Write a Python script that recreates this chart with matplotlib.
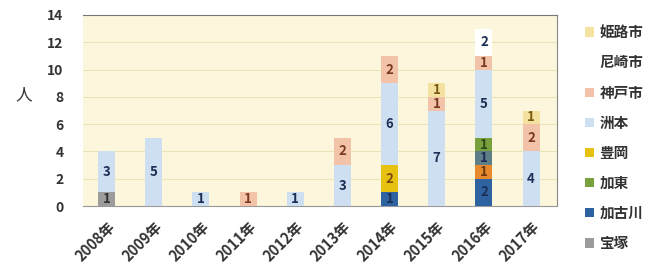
import numpy as np
import matplotlib
matplotlib.use("Agg")
import matplotlib.pyplot as plt
from matplotlib.patches import Patch

plt.rcParams['font.family'] = ['Noto Sans CJK JP', 'DejaVu Sans']

years = ["2008年", "2009年", "2010年", "2011年", "2012年",
         "2013年", "2014年", "2015年", "2016年", "2017年"]

# series, bottom to top of each stack
takarazuka = [1, 0, 0, 0, 0, 0, 0, 0, 0, 0]   # 宝塚
kakogawa   = [0, 0, 0, 0, 0, 0, 1, 0, 2, 0]   # 加古川
orange_x   = [0, 0, 0, 0, 0, 0, 0, 0, 1, 0]   # (not in legend)
slate_x    = [0, 0, 0, 0, 0, 0, 0, 0, 1, 0]   # (not in legend)
kato       = [0, 0, 0, 0, 0, 0, 0, 0, 1, 0]   # 加東
toyooka    = [0, 0, 0, 0, 0, 0, 2, 0, 0, 0]   # 豊岡
sumoto     = [3, 5, 1, 0, 1, 3, 6, 7, 5, 4]   # 洲本
kobe       = [0, 0, 0, 1, 0, 2, 2, 1, 1, 2]   # 神戸市
amagasaki  = [0, 0, 0, 0, 0, 0, 0, 0, 2, 0]   # 尼崎市
himeji     = [0, 0, 0, 0, 0, 0, 0, 1, 0, 1]   # 姫路市

series = [
    ("宝塚", takarazuka, "#9c9c9c", "#333333"),
    ("加古川", kakogawa, "#2f62a0", "#1b2f55"),
    (None, orange_x, "#e8892e", "#6b3a10"),
    (None, slate_x, "#5f7f88", "#1b2f55"),
    ("加東", kato, "#78a03c", "#2a4a1a"),
    ("豊岡", toyooka, "#e8c210", "#7a4a10"),
    ("洲本", sumoto, "#cfdff2", "#1b2f55"),
    ("神戸市", kobe, "#f2c3a8", "#7a3a20"),
    ("尼崎市", amagasaki, "#ffffff", "#1b2f55"),
    ("姫路市", himeji, "#f4e3a0", "#7a5a10"),
]

fig = plt.figure(figsize=(6.61, 2.68), dpi=100)
ax = fig.add_axes([83/661, 1 - 206/268, (557 - 83)/661, (206 - 15)/268])
ax.set_facecolor("#fcf7dc")

x = np.arange(len(years))
bottom = np.zeros(len(years))
handles = []
for name, vals, col, tcol in series:
    vals = np.array(vals, dtype=float)
    ax.bar(x, vals, 0.36, bottom=bottom, color=col, zorder=3)
    for xi, v, b in zip(x, vals, bottom):
        if v > 0:
            ax.text(xi, b + v / 2, str(int(v)), ha="center", va="center",
                    fontsize=9.5, fontweight="bold", color=tcol, zorder=4)
    if name:
        handles.append(Patch(facecolor=col, label=name))
    bottom += vals

ax.set_xlim(-0.5, 9.55)
ax.set_ylim(0, 14)
ax.set_yticks(range(0, 15, 2))
ax.grid(axis="y", color="#ebe3b8", lw=0.8, zorder=0)
ax.set_xticks(x)
ax.set_xticklabels(years, rotation=45, ha="right", rotation_mode="anchor",
                   fontsize=10.5, fontweight="bold", color="#333333")
ax.tick_params(axis="y", labelsize=10, length=0, pad=14, labelcolor="#333333")
ax.tick_params(axis="x", length=0, pad=9)
for t in ax.get_yticklabels():
    t.set_fontweight("bold")
ax.spines["top"].set_color("#777777")
ax.spines["right"].set_color("#888888")
ax.spines["left"].set_visible(False)
ax.spines["bottom"].set_color("#999999")

fig.text(24/661, 1 - 95/268, "人", fontsize=12, ha="center", va="center", color="#333333")

leg = fig.legend(handles=handles[::-1], loc="upper left",
                 bbox_to_anchor=(572/661, 1 - 11/268), frameon=False,
                 handlelength=0.6, handleheight=0.6, handletextpad=0.4,
                 labelspacing=0.97, fontsize=10.5)
for t in leg.get_texts():
    t.set_fontweight("bold")
    t.set_color("#333333")

fig.savefig("out.png", dpi=100)
